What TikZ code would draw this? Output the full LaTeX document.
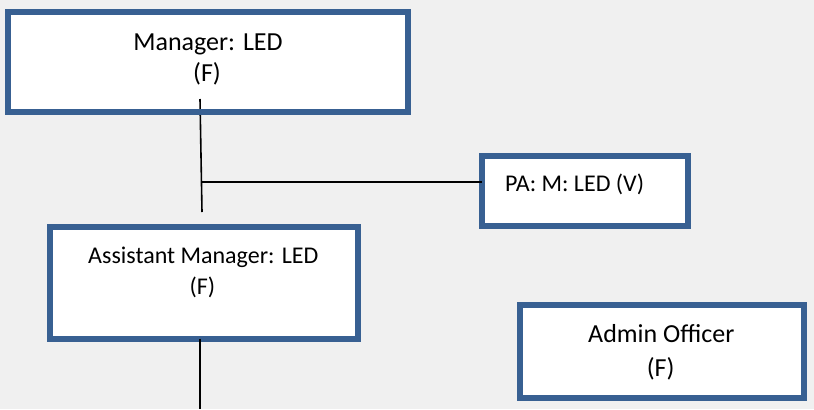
\documentclass[tikz,border=0pt]{standalone}
\usepackage{fontspec}
\setmainfont{Carlito}
\definecolor{boxblue}{HTML}{386092}
\definecolor{bggray}{HTML}{F0F0F0}
\begin{document}
\begin{tikzpicture}[x=1bp,y=-1bp,
  box/.style={draw=boxblue,line width=6bp,fill=white,inner sep=0pt,outer sep=0pt},
  bigtxt/.style={font=\fontsize{26bp}{30bp}\selectfont,anchor=base,inner sep=0pt},
  smalltxt/.style={font=\fontsize{24bp}{29bp}\selectfont,anchor=base,inner sep=0pt},
  conn/.style={draw=black,line width=1.6bp}]
\fill[bggray] (0,0) rectangle (814,409);
\useasboundingbox (0,0) rectangle (814,409);
% boxes
\node[box,minimum width=400bp,minimum height=100bp] (m) at (208,62) {};
\node[box,minimum width=206bp,minimum height=70bp] (pa) at (585,191) {};
\node[box,minimum width=307.4bp,minimum height=111.7bp] (am) at (204,282.85) {};
\node[box,minimum width=284bp,minimum height=93.3bp] (ao) at (661.7,351.35) {};
% connectors
\coordinate (mdrop) at (200,99);
\coordinate (jn) at (201.5,181.7);
\coordinate (amtop) at (202,212);
\coordinate (amdrop) at (200,409);
\draw[conn] (mdrop) -- (amtop);
\draw[conn] (jn) -- (jn -| pa.west);
\draw[conn] (am.south -| amdrop) -- (amdrop);
\draw[draw=boxblue,line width=6bp] (m.south west) rectangle (m.north east);
% texts
\node[bigtxt] (mt1) at (208,50.7) {Manager: LED};
\node[bigtxt] (mt2) at (207,81) {(F)};
\node[smalltxt,anchor=base west] (pat) at (505,191.3) {PA: M: LED (V)};
\node[smalltxt] (amt1) at (203.3,263.3) {Assistant Manager: LED};
\node[smalltxt] (amt2) at (202.5,294) {(F)};
\node[bigtxt] (aot1) at (661.3,342.3) {Admin Officer};
\node[bigtxt] (aot2) at (660.7,376) {(F)};
\end{tikzpicture}
\end{document}
